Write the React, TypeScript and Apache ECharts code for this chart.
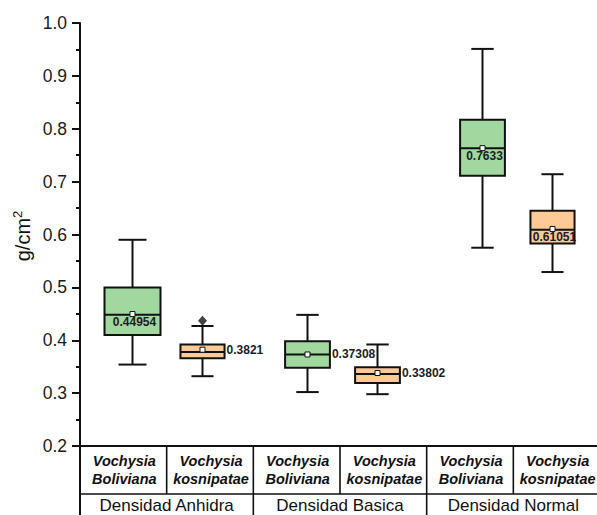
import { useEffect, useRef } from 'react';
import * as echarts from 'echarts';

// ---- data ----
const groups = ['Densidad Anhidra', 'Densidad Basica', 'Densidad Normal'];
const speciesLine1 = ['Vochysia', 'Vochysia'];
const speciesLine2 = ['Boliviana', 'kosnipatae'];

// one entry per box, order: group0-sp0, group0-sp1, group1-sp0, ...
const whiskerLow = [0.354, 0.332, 0.302, 0.298, 0.575, 0.529];
const q1 = [0.410, 0.366, 0.348, 0.319, 0.711, 0.583];
const median = [0.448, 0.378, 0.373, 0.336, 0.763, 0.609];
const q3 = [0.500, 0.392, 0.398, 0.349, 0.817, 0.645];
const whiskerHigh = [0.590, 0.427, 0.448, 0.392, 0.951, 0.714];
const means = [0.44954, 0.3821, 0.37308, 0.33802, 0.7633, 0.61051];
const meanLabels = ['0.44954', '0.3821', '0.37308', '0.33802', '0.7633', '0.61051'];
const outliers: number[][] = [[], [0.437], [], [], [], []];

const yTickMin = 0.2;
const yTickMax = 1.0;
const yTickStep = 0.1;

export default function App() {
  const ref = useRef<HTMLDivElement>(null);
  useEffect(() => {
    if (!ref.current) return;
    const chart = echarts.init(ref.current, null, { renderer: 'svg' });

    const FONT = 'Liberation Sans, Arial, sans-serif';
    const fills = ['#a0d8a0', '#fdc997'];
    const boxWidthUnits = [0.8, 0.63, 0.64, 0.64, 0.64, 0.63];
    const labelSide = ['below', 'right', 'right', 'right', 'below', 'below'];

    // box x positions: groups separated by 2.5 units, species by 1 unit
    const boxX = (i: number) => 1 + Math.floor(i / 2) * 2.5 + (i % 2);

    const boxData = whiskerLow.map((_, i) => [
      boxX(i), whiskerLow[i], q1[i], median[i], q3[i], whiskerHigh[i], means[i], i,
    ]);
    const outlierData: number[][] = [];
    outliers.forEach((arr, i) => arr.forEach((v) => outlierData.push([boxX(i), v])));

    const renderItem = (params: any, api: any) => {
      const i = api.value(7);
      const x = api.value(0);
      const pLow = api.coord([x, api.value(1)]);
      const pQ1 = api.coord([x, api.value(2)]);
      const pMed = api.coord([x, api.value(3)]);
      const pQ3 = api.coord([x, api.value(4)]);
      const pHigh = api.coord([x, api.value(5)]);
      const pMean = api.coord([x, api.value(6)]);
      const w = api.size([boxWidthUnits[i], 0])[0];
      const cx = pLow[0];
      const half = w / 2;
      const cap = w / 4;
      const stroke = { stroke: '#111', lineWidth: 2 };
      const children: any[] = [
        { type: 'line', shape: { x1: cx, y1: pQ1[1], x2: cx, y2: pLow[1] }, style: stroke },
        { type: 'line', shape: { x1: cx, y1: pQ3[1], x2: cx, y2: pHigh[1] }, style: stroke },
        { type: 'line', shape: { x1: cx - cap, y1: pLow[1], x2: cx + cap, y2: pLow[1] }, style: stroke },
        { type: 'line', shape: { x1: cx - cap, y1: pHigh[1], x2: cx + cap, y2: pHigh[1] }, style: stroke },
        {
          type: 'rect',
          shape: { x: cx - half, y: pQ3[1], width: w, height: pQ1[1] - pQ3[1] },
          style: { fill: fills[i % 2], stroke: '#111', lineWidth: 2 },
        },
        { type: 'line', shape: { x1: cx - half, y1: pMed[1], x2: cx + half, y2: pMed[1] }, style: stroke },
        {
          type: 'rect',
          shape: { x: cx - 2.5, y: pMean[1] - 2.5, width: 5, height: 5 },
          style: { fill: '#fff', stroke: '#111', lineWidth: 1 },
        },
      ];
      const side = labelSide[i];
      children.push({
        type: 'text',
        style: {
          text: meanLabels[i],
          x: side === 'right' ? cx + half + 2 : cx + 2,
          y: side === 'right' ? pMean[1] : pMean[1] + 8,
          align: side === 'right' ? 'left' : 'center',
          verticalAlign: 'middle',
          fontSize: 12,
          fontWeight: 'bold',
          fontFamily: FONT,
          fill: '#1c1c28',
        },
      });
      return { type: 'group', children };
    };

    // table decoration
    const left = 80;
    const right = 600;
    const top = 446;
    const mid = 494;
    const bottom = 515;
    const cellW = (right - left) / 6;
    const lineStyle = { stroke: '#111', lineWidth: 1.6 };
    const graphics: any[] = [
      { type: 'line', shape: { x1: left, y1: top, x2: 597, y2: top }, style: { stroke: '#111', lineWidth: 2 } },
      { type: 'line', shape: { x1: left, y1: mid, x2: 597, y2: mid }, style: lineStyle },
      { type: 'line', shape: { x1: left, y1: top - 1, x2: left, y2: bottom }, style: { stroke: '#111', lineWidth: 2 } },
    ];
    for (let k = 1; k < 6; k++) {
      const xk = left + cellW * k;
      graphics.push({
        type: 'line',
        shape: { x1: xk, y1: top, x2: xk, y2: k % 2 === 0 ? bottom : mid },
        style: lineStyle,
      });
    }
    for (let k = 0; k < 6; k++) {
      const s = k % 2;
      graphics.push({
        type: 'text',
        x: left + cellW * (k + 0.5) + 1,
        y: 470,
        style: {
          text: speciesLine1[s] + '\n' + speciesLine2[s],
          align: 'center',
          verticalAlign: 'middle',
          fontSize: 14.5,
          fontWeight: 'bold',
          fontStyle: 'italic',
          lineHeight: 18,
          fontFamily: FONT,
          fill: '#111',
        },
      });
    }
    groups.forEach((g, k) => {
      graphics.push({
        type: 'text',
        x: left + cellW * (2 * k + 1),
        y: 505,
        style: {
          text: g,
          align: 'center',
          verticalAlign: 'middle',
          fontSize: 17,
          lineHeight: 18,
          fontFamily: FONT,
          fill: '#111',
        },
      });
    });
    graphics.push({
      type: 'text',
      x: 22,
      y: 236,
      rotation: Math.PI / 2,
      style: {
        text: '{a|g/cm}{b|2}',
        align: 'center',
        verticalAlign: 'middle',
        rich: {
          a: { fontSize: 20, fontFamily: FONT, fill: '#111', lineHeight: 22, verticalAlign: 'bottom' },
          b: { fontSize: 13, fontFamily: FONT, fill: '#111', lineHeight: 22, verticalAlign: 'top', padding: [0, 0, 10, 0] },
        },
      },
    });

    chart.setOption({
      animation: false,
      grid: { left: 80, right: 0, top: 23, bottom: 69, containLabel: false },
      xAxis: {
        type: 'value',
        min: 0.25,
        max: 0.25 + 517 / 70,
        show: false,
      },
      yAxis: {
        type: 'value',
        min: yTickMin,
        max: yTickMax,
        interval: yTickStep,
        axisLine: { show: true, lineStyle: { color: '#111', width: 2 } },
        axisTick: { show: true, inside: false, length: 8, lineStyle: { color: '#111', width: 2 } },
        minorTick: { show: true, splitNumber: 2, length: 4, lineStyle: { color: '#111', width: 2 } },
        splitLine: { show: false },
        axisLabel: {
          margin: 13,
          fontSize: 17.5,
          fontFamily: FONT,
          color: '#1a1a1a',
          formatter: (v: number) => v.toFixed(1),
        },
      },
      graphic: graphics,
      series: [
        {
          type: 'custom',
          renderItem,
          data: boxData,
          encode: { x: 0, y: [1, 2, 3, 4, 5] },
          clip: false,
          z: 2,
        },
        {
          type: 'scatter',
          data: outlierData,
          symbol: 'diamond',
          symbolSize: [9, 10],
          itemStyle: { color: '#111' },
          z: 3,
        },
      ],
    });
    return () => chart.dispose();
  }, []);
  return (
    <div
      ref={ref}
      style={{ position: 'fixed', left: 0, top: 0, width: 597, height: 515, background: '#fff' }}
    />
  );
}
